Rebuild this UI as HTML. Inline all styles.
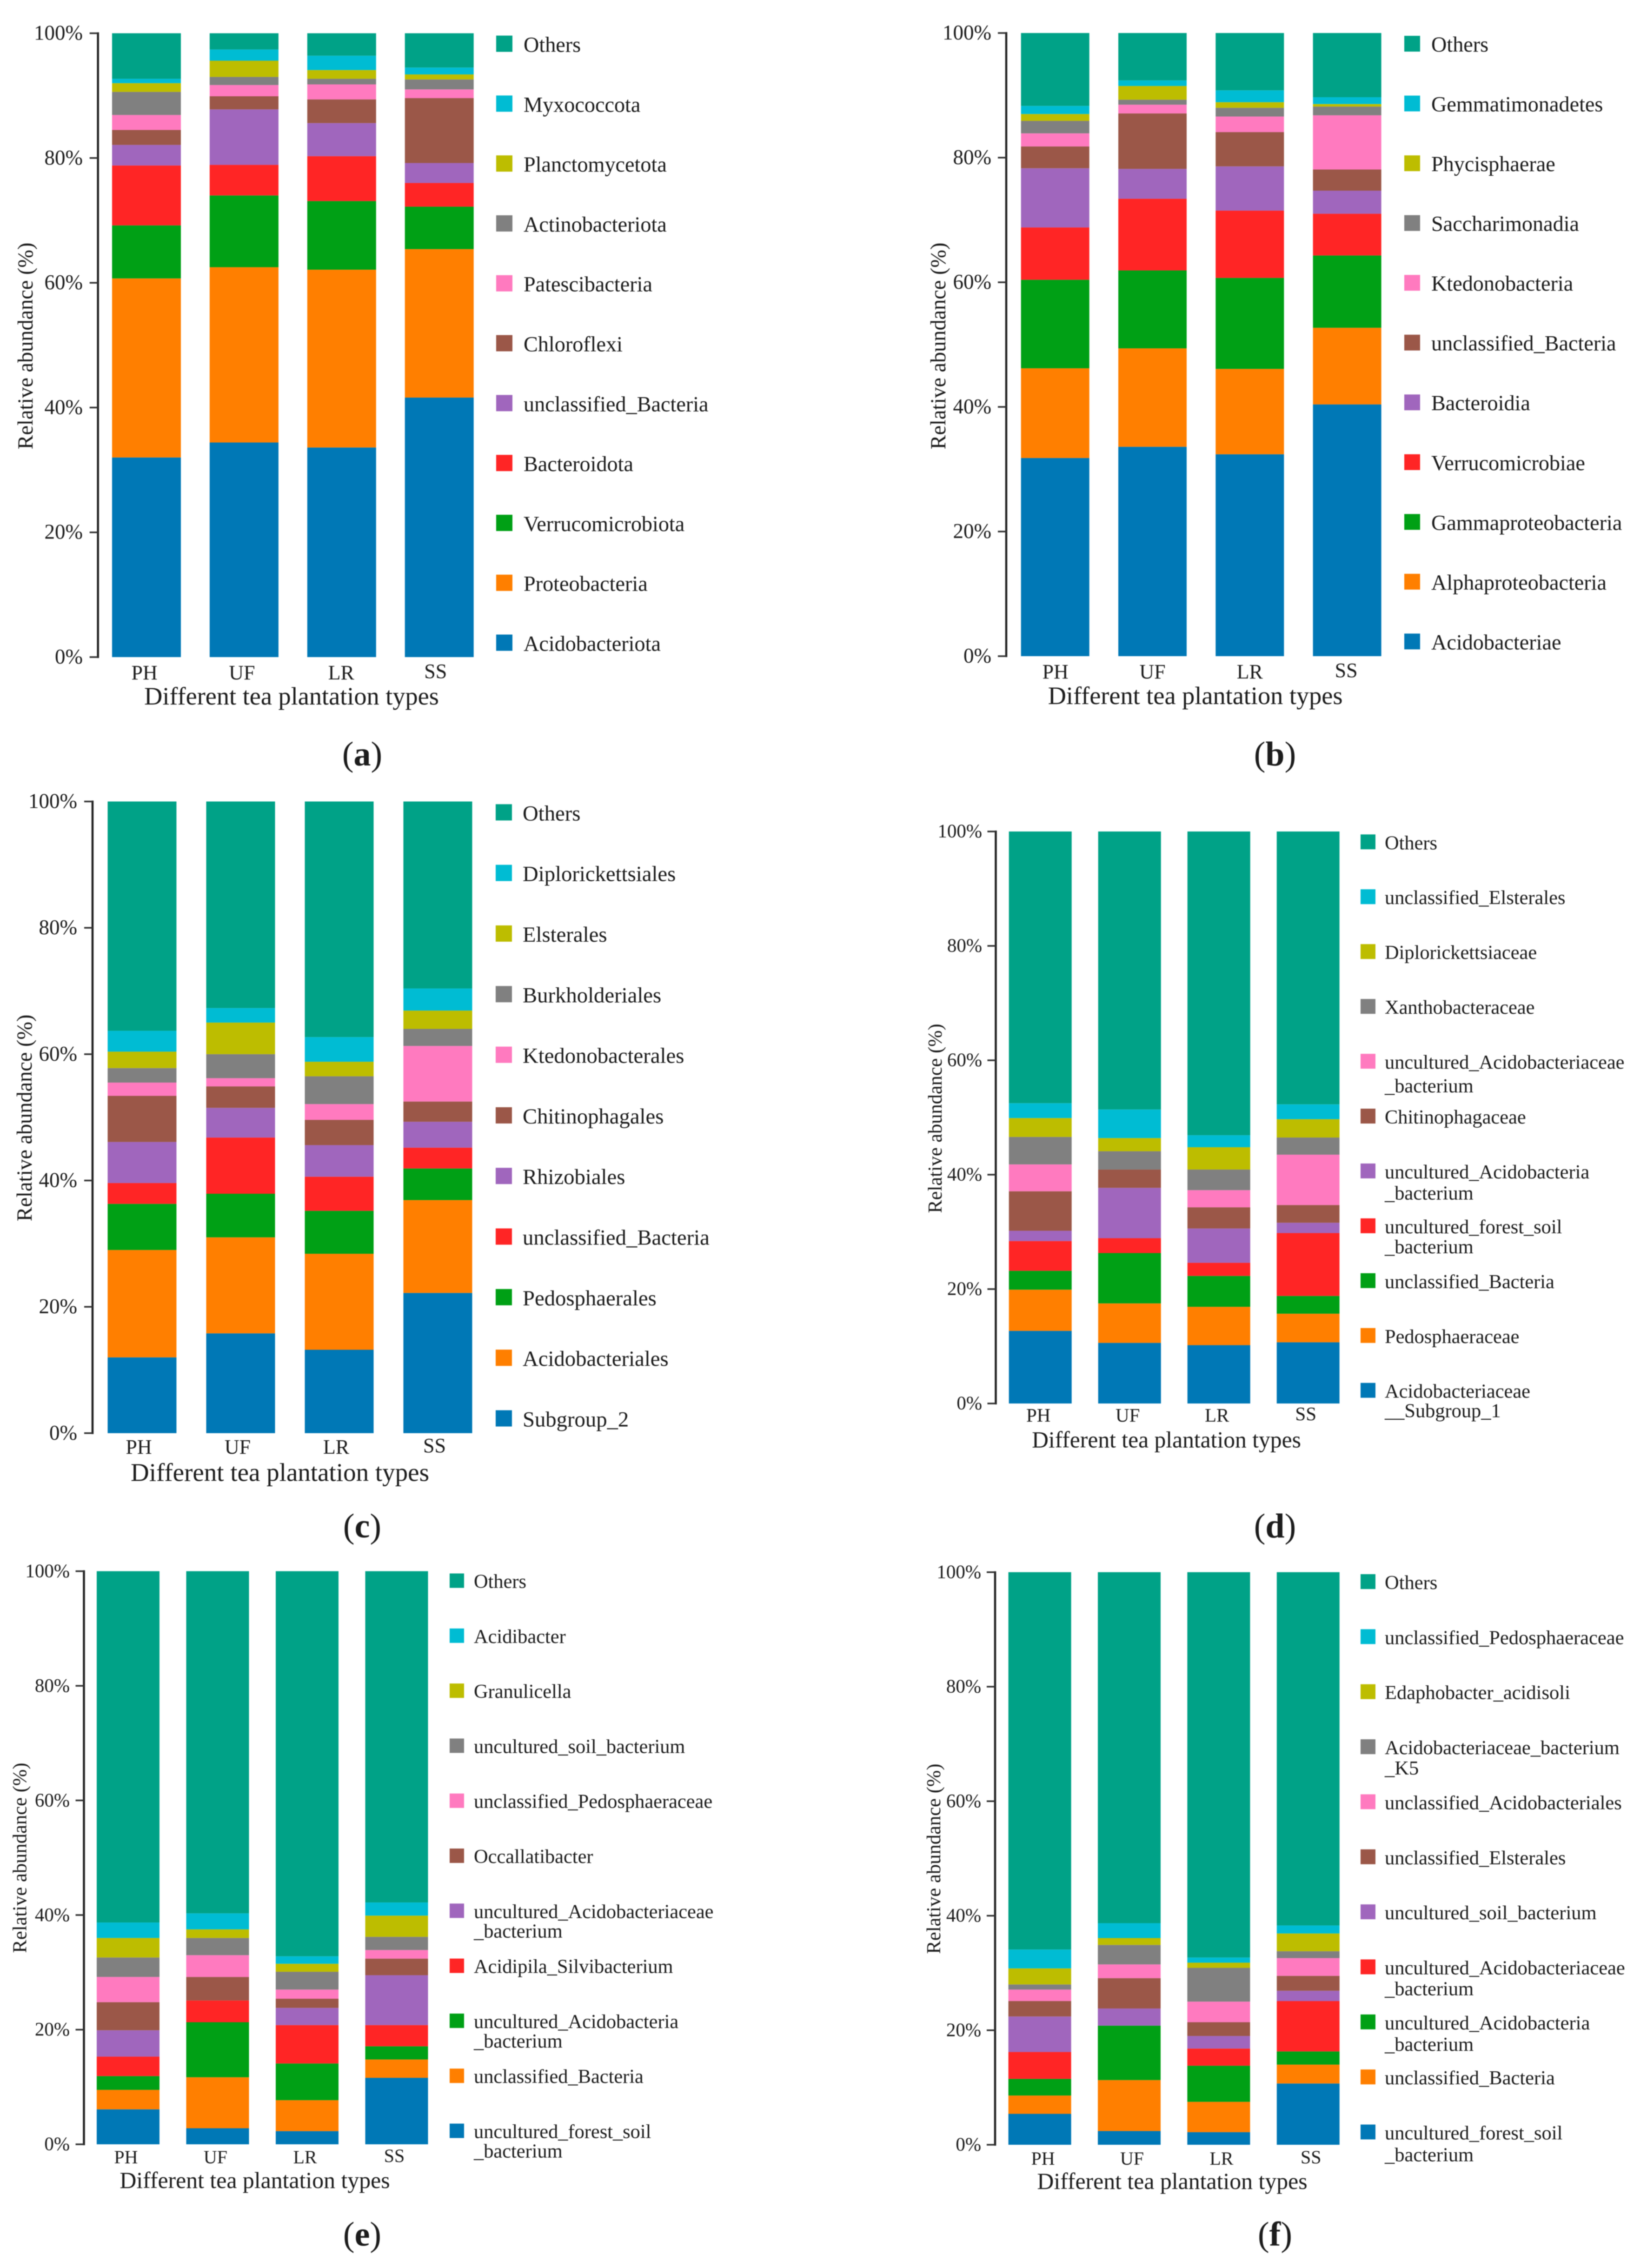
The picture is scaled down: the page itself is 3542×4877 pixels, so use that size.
<!DOCTYPE html>
<html lang="en">
<head>
<meta charset="utf-8">
<title>Relative abundance by tea plantation type</title>
<style>
html,body{margin:0;padding:0;background:#fff;}
#figure{display:block;width:3542px;height:4877px;filter:blur(0.8px);}
text{font-family:"Liberation Serif",serif;fill:#1c1c1c;}
</style>
</head>
<body>
<svg id="figure" xmlns="http://www.w3.org/2000/svg" width="3542" height="4877" viewBox="0 0 3542 4877"></svg>
<script>
const categories = ['PH','UF','LR','SS'];
const tickValues = [0,20,40,60,80,100];
const tickLabels = ['0%','20%','40%','60%','80%','100%'];
const xAxisTitle = 'Different tea plantation types';
const yAxisTitle = 'Relative abundance (%)';
const seriesColors = ['#0078b6','#ff7f00','#00a015','#ff2525','#a066bd','#9b5748','#ff7abf','#808080','#bdbd00','#00bcd3','#00a287'];

const panelATaxa = ['Acidobacteriota','Proteobacteria','Verrucomicrobiota','Bacteroidota','unclassified_Bacteria','Chloroflexi','Patescibacteria','Actinobacteriota','Planctomycetota','Myxococcota','Others'];
const panelAPH = [32.0,28.7,8.5,9.6,3.3,2.4,2.4,3.7,1.4,0.7,7.3];
const panelAUF = [34.4,28.1,11.5,4.9,8.9,2.1,1.8,1.3,2.6,1.8,2.6];
const panelALR = [33.6,28.5,11.0,7.2,5.3,3.8,2.4,0.9,1.4,2.3,3.6];
const panelASS = [41.6,23.8,6.8,3.8,3.2,10.4,1.4,1.6,0.8,1.1,5.5];

const panelBTaxa = ['Acidobacteriae','Alphaproteobacteria','Gammaproteobacteria','Verrucomicrobiae','Bacteroidia','unclassified_Bacteria','Ktedonobacteria','Saccharimonadia','Phycisphaerae','Gemmatimonadetes','Others'];
const panelBPH = [31.8,14.4,14.2,8.4,9.5,3.5,2.1,2.0,1.1,1.3,11.7];
const panelBUF = [33.6,15.8,12.5,11.5,4.8,8.9,1.4,0.8,2.2,0.9,7.6];
const panelBLR = [32.4,13.7,14.6,10.8,7.1,5.5,2.5,1.4,0.9,1.9,9.2];
const panelBSS = [40.4,12.3,11.6,6.7,3.7,3.4,8.7,1.4,0.4,1.1,10.3];

const panelCTaxa = ['Subgroup_2','Acidobacteriales','Pedosphaerales','unclassified_Bacteria','Rhizobiales','Chitinophagales','Ktedonobacterales','Burkholderiales','Elsterales','Diplorickettsiales','Others'];
const panelCPH = [12.0,17.0,7.3,3.3,6.5,7.3,2.1,2.3,2.6,3.3,36.3];
const panelCUF = [15.8,15.2,6.9,8.9,4.7,3.4,1.3,3.8,5.0,2.3,32.7];
const panelCLR = [13.2,15.2,6.8,5.4,5.0,4.0,2.5,4.4,2.3,3.9,37.3];
const panelCSS = [22.2,14.7,5.0,3.3,4.1,3.2,8.8,2.7,2.9,3.5,29.6];

const panelDTaxa = ['Acidobacteriaceae\n__Subgroup_1','Pedosphaeraceae','unclassified_Bacteria','uncultured_forest_soil\n_bacterium','uncultured_Acidobacteria\n_bacterium','Chitinophagaceae','uncultured_Acidobacteriaceae\n_bacterium','Xanthobacteraceae','Diplorickettsiaceae','unclassified_Elsterales','Others'];
const panelDPH = [12.7,7.2,3.3,5.2,1.8,6.9,4.7,4.8,3.3,2.6,47.5];
const panelDUF = [10.6,6.9,8.8,2.6,8.8,3.2,0.0,3.2,2.3,5.0,48.6];
const panelDLR = [10.2,6.7,5.4,2.3,6.0,3.7,3.0,3.6,3.9,2.1,53.1];
const panelDSS = [10.7,5.0,3.1,11.0,1.8,3.1,8.8,3.0,3.2,2.6,47.7];

const panelETaxa = ['uncultured_forest_soil\n_bacterium','unclassified_Bacteria','uncultured_Acidobacteria\n_bacterium','Acidipila_Silvibacterium','uncultured_Acidobacteriaceae\n_bacterium','Occallatibacter','unclassified_Pedosphaeraceae','uncultured_soil_bacterium','Granulicella','Acidibacter','Others'];
const panelEPH = [6.1,3.4,2.4,3.4,4.6,4.9,4.4,3.4,3.4,2.7,61.3];
const panelEUF = [2.8,8.9,9.6,3.8,0.0,4.1,3.8,3.0,1.5,2.8,59.7];
const panelELR = [2.3,5.4,6.4,6.7,3.0,1.6,1.6,3.1,1.4,1.3,67.2];
const panelESS = [11.6,3.2,2.3,3.7,8.7,2.9,1.5,2.3,3.7,2.3,57.8];

const panelFTaxa = ['uncultured_forest_soil\n_bacterium','unclassified_Bacteria','uncultured_Acidobacteria\n_bacterium','uncultured_Acidobacteriaceae\n_bacterium','uncultured_soil_bacterium','unclassified_Elsterales','unclassified_Acidobacteriales','Acidobacteriaceae_bacterium\n_K5','Edaphobacter_acidisoli','unclassified_Pedosphaeraceae','Others'];
const panelFPH = [5.4,3.2,2.9,4.7,6.2,2.7,2.0,0.9,2.8,3.3,65.9];
const panelFUF = [2.4,8.9,9.5,0.0,3.0,5.3,2.4,3.4,1.2,2.6,61.3];
const panelFLR = [2.2,5.3,6.3,3.0,2.2,2.4,3.6,5.9,0.9,0.9,67.3];
const panelFSS = [10.7,3.3,2.3,8.8,1.8,2.6,3.1,1.2,3.1,1.4,61.7];

const svg = document.getElementById('figure');
const NS = 'http://www.w3.org/2000/svg';

function slug(s){
  return s.toLowerCase().replace(/[^a-z0-9]+/g,'-').replace(/^-|-$/g,'');
}
function make(parent,tag,props){
  const el = document.createElementNS(NS,tag);
  for (const k in props) el.setAttribute(k,props[k]);
  parent.appendChild(el);
  return el;
}

function drawPanel(p){
  const yScale = v => p.y0 - (v/100)*(p.y0 - p.y100);
  const xScale = i => p.barStart + i*p.barStep;

  const g = make(svg,'g',{});
  
  

  /* y axis */
  const axis = make(g,'line',{x1:p.axisX,x2:p.axisX,y1:p.y100-2,y2:p.y0+2,stroke:'#222','stroke-width':4.5});
  
  

  tickValues.forEach((v,i)=>{
    const tick = make(g,'line',{x1:p.axisX-18,x2:p.axisX,y1:yScale(v),y2:yScale(v),stroke:'#333','stroke-width':3.5});
    
    
    const lab = make(g,'text',{x:p.tickRight,y:yScale(v)+p.tickFont*0.31,'text-anchor':'end','font-size':p.tickFont});
    lab.textContent = tickLabels[i];
    
    
  });

  const yt = make(g,'text',{transform:'translate('+p.yTitleX+','+p.yTitleY+') rotate(-90)','text-anchor':'middle','font-size':p.yTitleFont});
  yt.textContent = yAxisTitle;
  
  

  /* stacked bars */
  categories.forEach((cat,ci)=>{
    let acc = 0;
    p.series[ci].forEach((val,si)=>{
      const top = yScale(acc+val), bottom = yScale(acc);
      const r = make(g,'rect',{x:xScale(ci),y:top,width:p.barWidth,height:Math.max(0,bottom-top),fill:seriesColors[si]});
      
      
      acc += val;
    });
    const lab = make(g,'text',{x:xScale(ci)+p.barWidth/2+p.catDx[ci],y:ci===3?p.catBase-3:p.catBase,'text-anchor':'middle','font-size':p.catFont});
    lab.textContent = cat;
    
    
  });

  const xt = make(g,'text',{x:p.xTitleX,y:p.xTitleBase,'text-anchor':'middle','font-size':p.xTitleFont});
  xt.textContent = xAxisTitle;
  
  

  /* legend: first taxon sits at the bottom row */
  const n = p.taxa.length;
  p.taxa.forEach((name,i)=>{
    const cy = p.legendBottom - i*(p.legendBottom-p.legendTop)/(n-1);
    const entry = make(g,'g',{});
    
    
    const sq = make(entry,'rect',{x:p.sqX,y:cy-p.sq/2,width:p.sq,height:p.sq,fill:seriesColors[i]});
    
    
    const lines = name.split('\n');
    lines.forEach((line,li)=>{
      const gap = (p.gaps && p.gaps[i]) || 44;
      const t = make(entry,'text',{x:p.legendTextX,y:cy+p.sq/2+li*gap,'font-size':p.legendFont});
      t.textContent = line;
      
      
    });
  });

  /* caption letter */
  const cap = make(g,'text',{x:p.capX,y:p.capBase,'text-anchor':'middle','font-size':74});
  
  
  const a = make(cap,'tspan',{});
  a.textContent = '(';
  const b = make(cap,'tspan',{'font-weight':'bold'});
  b.textContent = p.id;
  const c = make(cap,'tspan',{});
  c.textContent = ')';
}

drawPanel({id:'a',taxa:panelATaxa,series:[panelAPH,panelAUF,panelALR,panelASS],
  axisX:210.7,y100:71.5,y0:1413,barStart:241,barStep:209.9,barWidth:148,
  tickRight:178,tickFont:45,yTitleX:70,yTitleY:744,yTitleFont:46.3,
  catFont:44,catBase:1461,catDx:[-4.4,-4.5,-1,-8],
  xTitleX:627,xTitleBase:1515,xTitleFont:54.3,
  sqX:1067,sq:35,legendTextX:1126,legendFont:46.2,legendTop:94,legendBottom:1382,
  capX:779,capBase:1646});

drawPanel({id:'b',taxa:panelBTaxa,series:[panelBPH,panelBUF,panelBLR,panelBSS],
  axisX:2164,y100:71,y0:1411,barStart:2195.7,barStep:209.3,barWidth:147,
  tickRight:2132,tickFont:45,yTitleX:2033,yTitleY:744,yTitleFont:46.3,
  catFont:44,catBase:1459,catDx:[0.5,0,0,-2],
  xTitleX:2570.6,xTitleBase:1514,xTitleFont:54.3,
  sqX:3020,sq:34,legendTextX:3078,legendFont:46.2,legendTop:94,legendBottom:1379.4,
  capX:2742,capBase:1646});

drawPanel({id:'c',taxa:panelCTaxa,series:[panelCPH,panelCUF,panelCLR,panelCSS],
  axisX:199,y100:1723.5,y0:3081.8,barStart:231.5,barStep:212,barWidth:148,
  tickRight:166,tickFont:45,yTitleX:68,yTitleY:2404,yTitleFont:46.3,
  catFont:44,catBase:3126,catDx:[-7,-6.5,-6.5,-7],
  xTitleX:602,xTitleBase:3184.5,xTitleFont:55,
  sqX:1066,sq:35,legendTextX:1124,legendFont:46.7,legendTop:1746.8,legendBottom:3050,
  capX:779,capBase:3306});

drawPanel({id:'d',taxa:panelDTaxa,series:[panelDPH,panelDUF,panelDLR,panelDSS],
  axisX:2141.5,y100:1788,y0:3018,barStart:2169.7,barStep:192,barWidth:135,
  tickRight:2112,tickFont:41,yTitleX:2025,yTitleY:2405,yTitleFont:42.4,
  catFont:41,catBase:3057,catDx:[-4,-4,-4,-5],
  xTitleX:2508.5,xTitleBase:3112.5,xTitleFont:49.6,
  sqX:2926,sq:32,legendTextX:2978,legendFont:42.4,legendTop:1810.3,legendBottom:2989.7,
  gaps:{0:42,3:43,4:45.5,6:51},
  capX:2742,capBase:3306});

drawPanel({id:'e',taxa:panelETaxa,series:[panelEPH,panelEUF,panelELR,panelESS],
  axisX:180.5,y100:3378.6,y0:4611,barStart:208,barStep:192.5,barWidth:135,
  tickRight:150,tickFont:41,yTitleX:56.5,yTitleY:3995,yTitleFont:42.6,
  catFont:40,catBase:4652,catDx:[-4.5,-4.5,-4.5,-5],
  xTitleX:548,xTitleBase:4705,xTitleFont:49.8,
  sqX:967,sq:31,legendTextX:1019,legendFont:42.4,legendTop:3399,legendBottom:4582,
  gaps:{0:42,2:42,4:42},
  capX:779,capBase:4829});

drawPanel({id:'f',taxa:panelFTaxa,series:[panelFPH,panelFUF,panelFLR,panelFSS],
  axisX:2140,y100:3380.7,y0:4612,barStart:2168.6,barStep:192.4,barWidth:135,
  tickRight:2110,tickFont:41,yTitleX:2022,yTitleY:3997,yTitleFont:42.6,
  catFont:40,catBase:4655,catDx:[7,6,6,6],
  xTitleX:2521,xTitleBase:4707,xTitleFont:49.8,
  sqX:2926,sq:32,legendTextX:2978,legendFont:42.5,legendTop:3401,legendBottom:4584.5,
  gaps:{0:47,2:46,3:45,7:44},
  capX:2742,capBase:4829});
</script>
</body>
</html>
